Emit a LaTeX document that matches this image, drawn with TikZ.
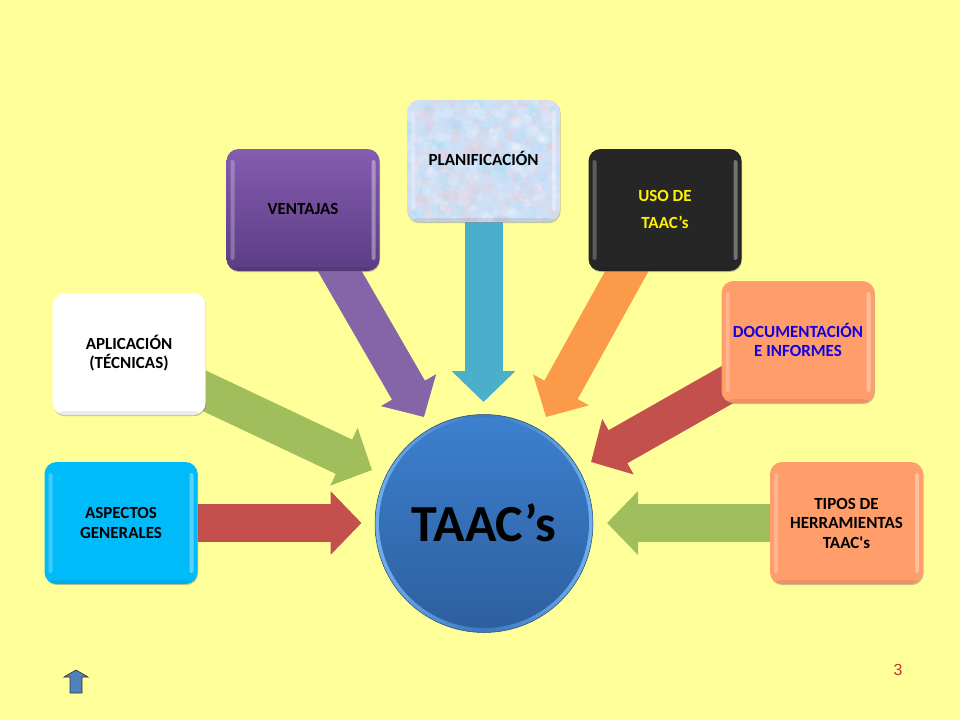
\documentclass[tikz,border=0pt]{standalone}
\usepackage{fontspec}
\setmainfont{Carlito}
\setsansfont{Liberation Sans}
\usetikzlibrary{arrows.meta,positioning,shadows,backgrounds,calc}

\definecolor{slide}{HTML}{FFFF99}
\definecolor{redarrow}{HTML}{C4504E}
\definecolor{greenarrow}{HTML}{A0BE5C}
\definecolor{purplearrow}{HTML}{8565A8}
\definecolor{bluearrow}{HTML}{4BAFCB}
\definecolor{orangearrow}{HTML}{FB9A48}
\definecolor{salmon}{HTML}{FF9E6B}
\definecolor{skyblue}{HTML}{00BBFA}
\definecolor{violettop}{HTML}{855CB0}
\definecolor{violetbottom}{HTML}{5C3C84}
\definecolor{nearblack}{HTML}{262626}
\definecolor{inkblue}{HTML}{1400DC}
\definecolor{mist}{HTML}{CFE0F6}
\definecolor{hubrim}{HTML}{3A78C0}
\definecolor{hubedge}{HTML}{6FB0EC}
\definecolor{hubtop}{HTML}{3C80CE}
\definecolor{hubbottom}{HTML}{2E5F9F}
\definecolor{homeblue}{HTML}{4F81BD}
\definecolor{pagered}{HTML}{C83228}

\newcommand{\tilegloss}{
    \fill[white, opacity=0.25, rounded corners=2pt] ([xshift=4pt, yshift=-11pt]path picture bounding box.north west) rectangle ([xshift=8pt, yshift=11pt]path picture bounding box.south west);
    \fill[white, opacity=0.35, rounded corners=2pt] ([xshift=-8pt, yshift=-11pt]path picture bounding box.north east) rectangle ([xshift=-4pt, yshift=11pt]path picture bounding box.south east);
    \fill[black, opacity=0.08] ([yshift=4pt]path picture bounding box.south west) rectangle (path picture bounding box.south east);
}
\newcommand{\liftup}[1]{\\[#1]\mbox{}}

\begin{document}
\begin{tikzpicture}[
    x=1pt, y=-1pt,
    tile/.style={rectangle, rounded corners=12pt, minimum width=153pt, minimum height=122pt, inner sep=0pt, outer sep=0pt, align=center,
        font=\fontsize{17}{19.5}\selectfont\bfseries,
        drop shadow={shadow xshift=0.6pt, shadow yshift=-1.2pt, opacity=0.45},
        path picture={\tilegloss}},
    mottled/.style={fill=mist,
        path picture={
            \pgfmathsetseed{7}
            \foreach \i in {1,...,420} {
                \pgfmathsetmacro{\blotchx}{rnd*153-76.5}
                \pgfmathsetmacro{\blotchy}{rnd*122-61}
                \pgfmathsetmacro{\blotchr}{2+rnd*4.5}
                \pgfmathtruncatemacro{\blotchc}{mod(\i,3)}
                \ifnum\blotchc=0 \def\blotchcol{pink}\else\ifnum\blotchc=1 \def\blotchcol{cyan!40}\else\def\blotchcol{white}\fi\fi
                \fill[\blotchcol, opacity=0.16] ([shift={(\blotchx,\blotchy)}]path picture bounding box.center) circle (\blotchr pt);
            }
            \tilegloss
        }},
    hub/.style={circle, minimum size=218pt, inner sep=0pt, outer sep=0pt, draw=hubbottom!70!black, line width=0.5pt,
        font=\fontsize{52}{52}\selectfont\bfseries,
        path picture={
            \shade[left color=hubedge, right color=hubedge, middle color=hubrim] (path picture bounding box.center) circle (109pt);
            \shade[top color=hubtop, bottom color=hubbottom] ([yshift=0.5pt]path picture bounding box.center) circle (105pt);
        }},
    block/.style={line width=38pt, -{Triangle[length=31pt, width=62pt]}}
]

% Nodes
\node[hub] (taac) at (484,523.5) {\raisebox{2pt}{TAAC’s}};

\node[tile, fill=skyblue, left=177.5pt of taac, yshift=0.5pt] (aspectos) {ASPECTOS\\GENERALES};
\node[tile, fill=white, above=47pt of aspectos, xshift=8pt] (aplicacion) {APLICACIÓN\\(TÉCNICAS)\liftup{-15.5pt}};
\node[tile, top color=violettop, bottom color=violetbottom, above right=22pt and 21pt of aplicacion] (ventajas) {VENTAJAS\liftup{-17.5pt}};
\node[tile, mottled, right=27.5pt of ventajas, yshift=49pt] (planificacion) {PLANIFICACIÓN\liftup{-13.5pt}};
\node[tile, fill=nearblack, text=yellow, font=\fontsize{17}{27}\selectfont\bfseries, right=28.5pt of planificacion, yshift=-49pt] (uso) {USO DE\\TAAC’s\liftup{-25pt}};
\node[tile, fill=salmon, text=inkblue, below right=10pt and -20pt of uso] (documentacion) {DOCUMENTACIÓN\\E INFORMES\liftup{-15.5pt}};
\node[tile, fill=salmon, below=59pt of documentacion, xshift=48.5pt] (tipos) {TIPOS DE\\HERRAMIENTAS\\TAAC\textquotesingle s};

% Tips
\coordinate[right=164pt of aspectos.east] (tipaspectos);
\coordinate (tipaplicacion) at (372,470);
\coordinate (tipventajas) at (424,417);
\coordinate[below=180pt of planificacion.south] (tipplanificacion);
\coordinate (tipuso) at (546,417);
\coordinate (tipdocumentacion) at (591,462);
\coordinate[left=163pt of tipos.west] (tiptipos);

% Edges
\begin{scope}[on background layer]
\fill[slide] (0,0) rectangle (960,720);
\draw[block, redarrow] (aspectos.east) -- (tipaspectos);
\draw[block, greenarrow] ($(aplicacion.-26)!-30pt!(tipaplicacion)$) -- (tipaplicacion);
\draw[block, purplearrow] ($(ventajas.-59)!-30pt!(tipventajas)$) -- (tipventajas);
\draw[block, bluearrow] (planificacion.south) -- (tipplanificacion);
\draw[block, orangearrow] ($(uso.-122)!-30pt!(tipuso)$) -- (tipuso);
\draw[block, redarrow] ($(documentacion.-149)!-30pt!(tipdocumentacion)$) -- (tipdocumentacion);
\draw[block, greenarrow] (tipos.west) -- (tiptipos);
\end{scope}

% Page number and home button
\node[pagered, font=\sffamily\fontsize{16}{16}\selectfont] (pagenum) at (898,670) {3};
\draw[fill=homeblue, draw=black!80, line width=0.7pt] (76,670) -- (88,677) -- (82,677) -- (82,693) -- (70,693) -- (70,677) -- (64,677) -- cycle;

\useasboundingbox (0,0) rectangle (960,720);
\end{tikzpicture}
\end{document}
